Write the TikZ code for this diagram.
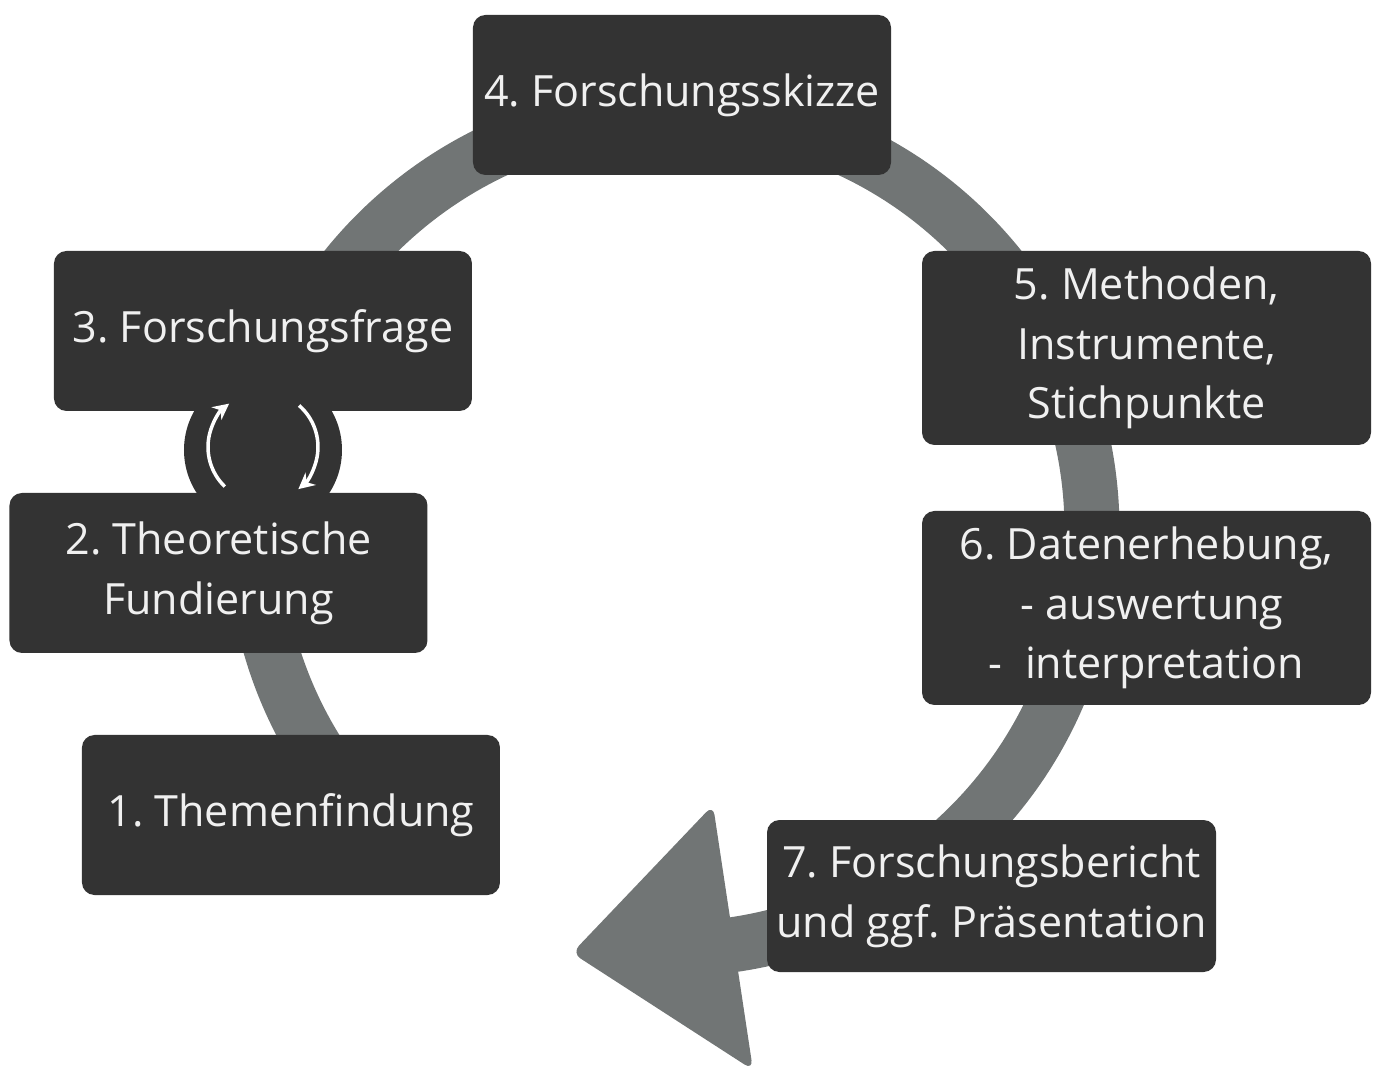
\documentclass[tikz,border=0pt]{standalone}
\usepackage{fontspec}
\setmainfont{Open Sans}
\frenchspacing
\usetikzlibrary{arrows.meta}
\definecolor{boxgray}{HTML}{333333}
\definecolor{ringgray}{HTML}{717575}

\begin{document}
\begin{tikzpicture}[
            every node/.append style={text=white!94!black},
            stage/.style={fill=boxgray, rounded corners=0.25cm, align=center, inner sep=0pt,
                minimum width=8.36cm, minimum height=3.2cm, font=\fontsize{24.5}{34}\selectfont},
            widestage/.style={stage, minimum width=8.98cm},
            ring/.style={ringgray, line width=1.1cm},
            swap/.style={white, line width=0.07cm, -{Stealth[length=0.32cm,width=0.32cm]}}
        ]
            \useasboundingbox (-13.46,-10.94) rectangle (14.0,10.6);
            \draw [ring] (220:8.38) arc [start angle=220, end angle=-84, radius=8.38];
            \fill [ringgray, rounded corners=0.2cm] (-2.02,-8.46) -- (0.8,-5.5) -- (1.6,-10.8) -- cycle;
            \fill [boxgray] (-8.2,1.6) circle (1.58);
            \node [stage] (themen) at (-7.64,-5.7) {1. Themenfindung};
            \node [stage] (theorie) at (-9.09,-0.86) {2. Theoretische\\Fundierung};
            \node [stage] (frage) at (-8.2,3.98) {3. Forschungsfrage};
            \node [stage] (skizze) at (0.18,8.7) {4. Forschungsskizze};
            \node [widestage, minimum height=3.88cm] (methoden) at (9.47,3.64)
                {5. Methoden,\\Instrumente,\\Stichpunkte};
            \node [widestage, minimum height=3.88cm] (daten) at (9.47,-1.56)
                {6. Datenerhebung,\\\ - auswertung\\-\ \ interpretation};
            \node [widestage, minimum height=3.04cm] (bericht) at (6.37,-7.32)
                {7. Forschungsbericht\\und ggf. Präsentation};
            \draw [swap] (-8.2,1.66) ++(226:1.1) arc [start angle=226, end angle=128, radius=1.1];
            \draw [swap] (-8.2,1.66) ++(49:1.1) arc [start angle=49, end angle=-50, radius=1.1];
        \end{tikzpicture}
\end{document}
